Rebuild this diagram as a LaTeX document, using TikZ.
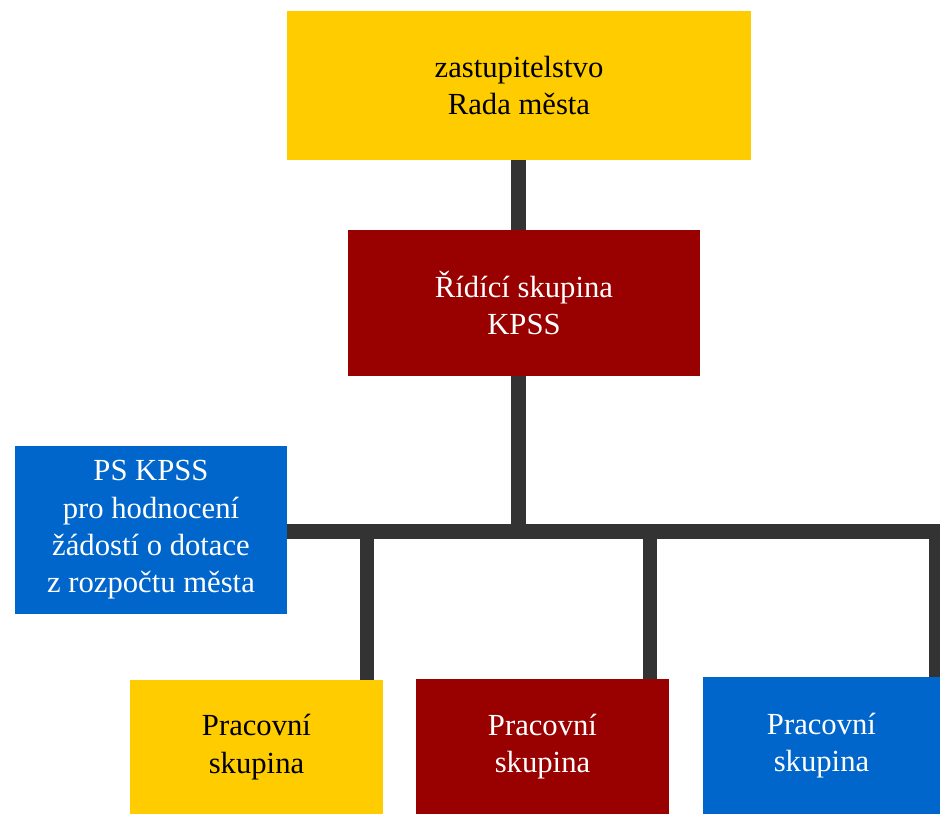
\documentclass[tikz,border=0pt]{standalone}
\usepackage{fontspec}
\setmainfont{Liberation Serif}
\definecolor{cyellow}{HTML}{FFCC00}
\definecolor{cred}{HTML}{990000}
\definecolor{cblue}{HTML}{0066CC}
\definecolor{cline}{HTML}{333333}
\begin{document}
\begin{tikzpicture}[x=0.75pt,y=-0.75pt,
  box/.style={rectangle, draw=none, inner sep=0pt, align=center,
    font=\fontsize{23pt}{28pt}\selectfont},
  ybox/.style={box, fill=cyellow, text=black},
  rbox/.style={box, fill=cred, text=white},
  bbox/.style={box, fill=cblue, text=white},
  conn/.style={draw=cline, line width=11pt, line cap=butt, line join=miter}]
\useasboundingbox (0,0) rectangle (940,814);
\node[ybox, minimum width=348pt, minimum height=111.75pt] (top) at (519,85.5) {zastupitelstvo\\Rada města};
\node[rbox, minimum width=264pt, minimum height=109.5pt] (ridici) at (524,303) {Řídící skupina\\KPSS};
\node[bbox, minimum width=204pt, minimum height=126pt] (ps) at (151,530) {PS KPSS\\pro hodnocení\\žádostí o dotace\\z rozpočtu města};
\node[ybox, minimum width=189.75pt, minimum height=100.5pt] (pw1) at (256.5,747) {Pracovní\\skupina};
\node[rbox, minimum width=189.75pt, minimum height=101.25pt] (pw2) at (542.5,746.5) {Pracovní\\skupina};
\node[bbox, minimum width=177.75pt, minimum height=102.75pt] (pw3) at (821.5,745.5) {Pracovní\\skupina};
\coordinate (bar) at (518.5,531.5);
\coordinate (d1) at (367,531.5);
\coordinate (d2) at (650,531.5);
\coordinate (d3) at (936,531.5);
\draw[conn] (top.south -| bar) -- (ridici.north -| bar);
\draw[conn] (ridici.south -| bar) -- (bar);
\draw[conn] (ps.east |- bar) -- (d3) -- (d3 |- pw3.north);
\draw[conn] (d1) -- (d1 |- pw1.north);
\draw[conn] (d2) -- (d2 |- pw2.north);
\end{tikzpicture}
\end{document}
